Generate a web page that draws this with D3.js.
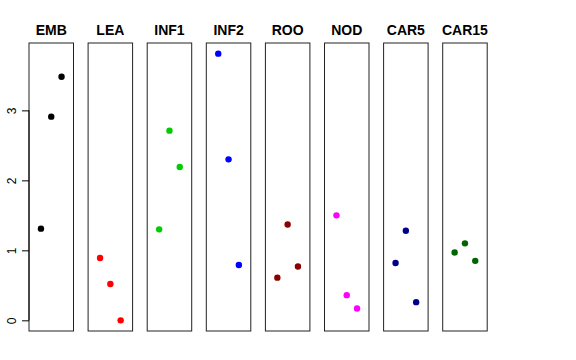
<!DOCTYPE html>
<html><head><meta charset="utf-8">
<script src="https://cdn.jsdelivr.net/npm/d3@7"></script>
<style>body{margin:0;background:#fff}svg{display:block}</style>
</head><body><svg id="c" width="576" height="360"></svg>
<script>
const categories = ["EMB","LEA","INF1","INF2","ROO","NOD","CAR5","CAR15"];
const colors = ["#000000","#FF0000","#00CD00","#0000FF","#8B0000","#FF00FF","#00008B","#006400"];
const valuesEMB = [1.31, 2.91, 3.48];
const valuesLEA = [0.89, 0.52, 0.00];
const valuesINF1 = [1.30, 2.71, 2.19];
const valuesINF2 = [3.81, 2.30, 0.79];
const valuesROO = [0.61, 1.37, 0.77];
const valuesNOD = [1.50, 0.36, 0.17];
const valuesCAR5 = [0.82, 1.28, 0.26];
const valuesCAR15 = [0.97, 1.10, 0.85];
const xPositions = [1, 2, 3];
const yTicks = [0, 1, 2, 3];
const series = [valuesEMB, valuesLEA, valuesINF1, valuesINF2, valuesROO, valuesNOD, valuesCAR5, valuesCAR15];

const svg = d3.select("#c");
const plotTop = 43, plotBottom = 331;
const panelW = 44.5, step = 59.1, left0 = 29;
const yMax = 3.81, yPad = 0.04 * yMax;
const y = d3.scaleLinear().domain([-yPad, yMax + yPad]).range([plotBottom, plotTop]);
const xPad = 0.04 * 4;

categories.forEach((cat, i) => {
  const x0 = left0 + i * step;
  const x = d3.scaleLinear().domain([0 - xPad, 4 + xPad]).range([x0, x0 + panelW]);
  const g = svg.append("g");
  g.append("rect").attr("x", x0).attr("y", plotTop).attr("width", panelW).attr("height", plotBottom - plotTop)
    .attr("fill", "none").attr("stroke", "#222").attr("stroke-width", 1);
  g.append("text").attr("x", x0 + panelW / 2).attr("y", 35).attr("text-anchor", "middle")
    .attr("font-family", "Liberation Sans, Arial, sans-serif").attr("font-weight", "bold")
    .attr("font-size", 14).text(cat);
  g.selectAll("circle").data(series[i]).enter().append("circle")
    .attr("cx", (d, j) => x(xPositions[j])).attr("cy", d => y(d)).attr("r", 3.2)
    .attr("fill", colors[i]);
  if (i === 0) {
    const ax = g.append("g").attr("transform", `translate(${x0},0)`)
      .call(d3.axisLeft(y).tickValues(yTicks).tickSize(7).tickPadding(10).tickFormat(d3.format("d")));
    ax.select(".domain").attr("d", `M0,${y(0)}V${y(3)}`).attr("stroke", "#000");
    ax.selectAll(".tick line").attr("stroke", "#000");
    ax.selectAll(".tick text").attr("font-family", "Liberation Sans, Arial, sans-serif").attr("font-size", 12)
      .attr("fill", "#000")
      .attr("transform", "rotate(-90)").attr("text-anchor", "middle").attr("dy", "0")
      .attr("x", 0).attr("y", -13);
  }
});
</script>
</body></html>
